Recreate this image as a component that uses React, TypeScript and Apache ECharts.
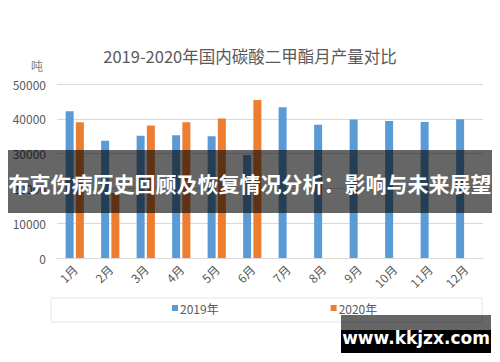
import React, { useEffect, useRef } from "react";
import * as echarts from "echarts";

const months = ["1月", "2月", "3月", "4月", "5月", "6月", "7月", "8月", "9月", "10月", "11月", "12月"];
const values2019 = [42200, 33700, 35100, 35300, 35000, 29600, 43300, 38300, 39800, 39400, 39100, 39900];
const values2020 = [39000, 18700, 38100, 39000, 40100, 45400, null, null, null, null, null, null];
const seriesNames = ["2019年", "2020年"];
const yTicks = { min: 0, max: 50000, interval: 10000 };
const titleText = "2019-2020年国内碳酸二甲酯月产量对比";
const unitText = "吨";
const bannerText = "布克伤病历史回顾及恢复情况分析：影响与未来展望";
const watermarkText = "www.kkjzx.com";

const FONT = "'Noto Sans CJK SC', 'Noto Sans', sans-serif";

export default function App() {
  const ref = useRef<HTMLDivElement>(null);
  useEffect(() => {
    document.body.style.margin = "0";
    const chart = echarts.init(ref.current!, null, { renderer: "svg" });
    chart.setOption({
      animation: false,
      backgroundColor: "#ffffff",
      textStyle: { fontFamily: FONT },
      title: {
        text: titleText,
        left: "center",
        top: 43,
        textStyle: { fontSize: 16.5, fontWeight: "normal", color: "#595959", fontFamily: FONT },
      },
      grid: { left: 57, right: 17, top: 84, bottom: 104 },
      legend: {
        data: seriesNames,
        left: 167,
        top: 297,
        itemWidth: 6,
        itemHeight: 6,
        itemGap: 112,
        icon: "rect",
        textStyle: { fontSize: 12, color: "#595959", fontFamily: FONT, padding: [0, 0, 0, -3] },
      },
      xAxis: {
        type: "category",
        data: months,
        axisLine: { lineStyle: { color: "#d9d9d9" } },
        axisTick: { show: false },
        axisLabel: { rotate: 45, fontSize: 12, color: "#595959", margin: 9, fontFamily: FONT },
      },
      yAxis: {
        type: "value",
        min: yTicks.min,
        max: yTicks.max,
        interval: yTicks.interval,
        name: unitText,
        nameLocation: "end",
        nameGap: 13,
        nameTextStyle: { color: "#7f7f7f", fontSize: 12, align: "right", padding: [0, 14, 0, 0], fontFamily: FONT },
        axisLine: { show: false },
        axisTick: { show: false },
        axisLabel: {
          fontSize: 12,
          color: "#595959",
          margin: 11,
          fontFamily: FONT,
          formatter: (v: number) => String(v),
        },
        splitLine: { lineStyle: { color: "#d9d9d9" } },
      },
      series: [
        {
          name: seriesNames[0],
          type: "bar",
          data: values2019,
          barWidth: 8,
          barGap: "28%",
          itemStyle: { color: "#5b9bd5" },
        },
        {
          name: seriesNames[1],
          type: "bar",
          data: values2020,
          barWidth: 8,
          itemStyle: { color: "#ed7d31" },
        },
      ],
      graphic: [
        {
          type: "rect",
          shape: { x: 51, y: 298, width: 431, height: 24 },
          style: { fill: "none", stroke: "#e6e6e6", lineWidth: 1 },
          z: 1,
        },
        {
          type: "rect",
          shape: { x: 8, y: 150, width: 484, height: 63 },
          style: { fill: "rgba(0,0,0,0.6)" },
          z: 100,
        },
        {
          type: "text",
          x: 250,
          y: 183,
          z: 101,
          style: {
            text: bannerText,
            fill: "#ffffff",
            font: `bold 21px ${FONT}`,
            align: "center",
            verticalAlign: "middle",
          },
        },
        {
          type: "rect",
          shape: { x: 341, y: 315, width: 150, height: 15 },
          style: { fill: "rgba(0,0,0,0.6)" },
          z: 100,
        },
        {
          type: "rect",
          shape: { x: 341, y: 330, width: 150, height: 23 },
          style: { fill: "#000000" },
          z: 100,
        },
        {
          type: "text",
          x: 416,
          y: 338,
          z: 101,
          style: {
            text: watermarkText,
            fill: "#ffffff",
            font: `bold 17px 'DejaVu Sans', sans-serif`,
            align: "center",
            verticalAlign: "middle",
          },
        },
      ],
    });
    return () => chart.dispose();
  }, []);
  return <div ref={ref} style={{ position: "absolute", left: 0, top: 0, width: 500, height: 362 }} />;
}
